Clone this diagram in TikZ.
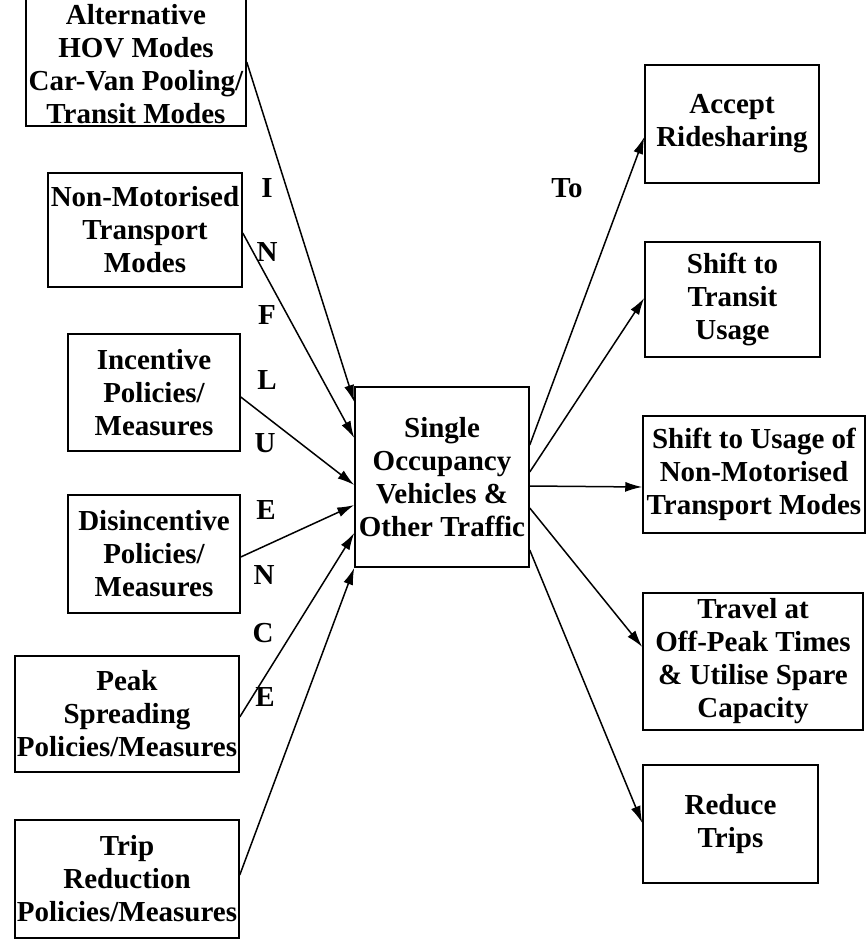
\documentclass[tikz,border=0pt]{standalone}
\usepackage{fontspec}
\setmainfont{Liberation Serif}
\usetikzlibrary{arrows.meta,calc}
\begin{document}
\begin{tikzpicture}[x=1pt,y=-1pt,
  box/.style={draw,line width=1.5pt,inner sep=0pt,align=center,font=\fontsize{29}{33}\selectfont\bfseries},
  lbl/.style={inner sep=0pt,font=\fontsize{29}{33}\selectfont\bfseries},
  arr/.style={line width=1.5pt,-{Latex[length=17pt,width=10pt]}}]
\useasboundingbox (0,0) rectangle (866,941);
% left boxes
\node[box,minimum width=220pt,minimum height=130pt] (b1) at (136,61) {\rule{0pt}{26pt}Alternative\\HOV Modes\\Car-Van Pooling/\\Transit Modes};
\node[box,minimum width=194pt,minimum height=114pt] (b2) at (145,230) {Non-Motorised\\Transport\\Modes};
\node[box,minimum width=172pt,minimum height=117pt] (b3) at (154,392.5) {Incentive\\Policies/\\Measures};
\node[box,minimum width=172pt,minimum height=118pt] (b4) at (154,554) {Disincentive\\Policies/\\Measures};
\node[box,minimum width=224pt,minimum height=116pt] (b5) at (127,714) {Peak\\Spreading\\Policies/Measures};
\node[box,minimum width=224pt,minimum height=118pt] (b6) at (127,879) {Trip\\Reduction\\Policies/Measures};
% centre
\node[box,minimum width=174pt,minimum height=180pt] (c) at (442,477) {Single\\Occupancy\\Vehicles \&\\Other Traffic};
% right boxes
\node[box,minimum width=174pt,minimum height=118pt] (r1) at (732,124) {Accept\\Ridesharing};
\node[box,minimum width=175pt,minimum height=115pt] (r2) at (732.5,299.5) {Shift to\\Transit\\Usage};
\node[box,minimum width=222pt,minimum height=117pt] (r3) at (754,474.5) {Shift to Usage of\\Non-Motorised\\Transport Modes};
\node[box,minimum width=220pt,minimum height=137pt] (r4) at (753,661.5) {Travel at\\Off-Peak Times\\\& Utilise Spare\\Capacity};
\node[box,minimum width=175pt,minimum height=118pt] (r5) at (730.5,824) {Reduce\\Trips};
% letters
\node[lbl] (l1) at (267,188) {I};
\node[lbl] (l2) at (267,252) {N};
\node[lbl] (l3) at (267,315) {F};
\node[lbl] (l4) at (267,380) {L};
\node[lbl] (l5) at (265,443) {U};
\node[lbl] (l6) at (266,510) {E};
\node[lbl] (l7) at (264,575) {N};
\node[lbl] (l8) at (263,633) {C};
\node[lbl] (l9) at (265,697) {E};
\node[lbl] (to) at (567,188) {To};
% arrows in
\draw[arr] ($(b1.east)+(0,1)$) -- ($(c.west)+(0,-75)$);
\draw[arr] ($(b2.east)+(0,3)$) -- ($(c.west)+(0,-39)$);
\draw[arr] ($(b3.east)+(0,4.5)$) -- ($(c.west)+(0,8)$);
\draw[arr] ($(b4.east)+(0,3)$) -- ($(c.west)+(0,28)$);
\draw[arr] ($(b5.east)+(0,3)$) -- ($(c.west)+(0,56)$);
\draw[arr] ($(b6.east)+(0,-4)$) -- (c.south west);
% arrows out
\draw[arr] ($(c.east)+(0,-32)$) -- ($(r1.west)+(0,13)$);
\draw[arr] ($(c.east)+(0,-5)$) -- ($(r2.west)+(0,-1.5)$);
\draw[arr] ($(c.east)+(0,9)$) -- ($(r3.west)+(0,12.5)$);
\draw[arr] ($(c.east)+(0,31)$) -- ($(r4.west)+(0,-14.5)$);
\draw[arr] ($(c.east)+(0,73)$) -- ($(r5.west)+(0,-1)$);
\end{tikzpicture}
\end{document}
